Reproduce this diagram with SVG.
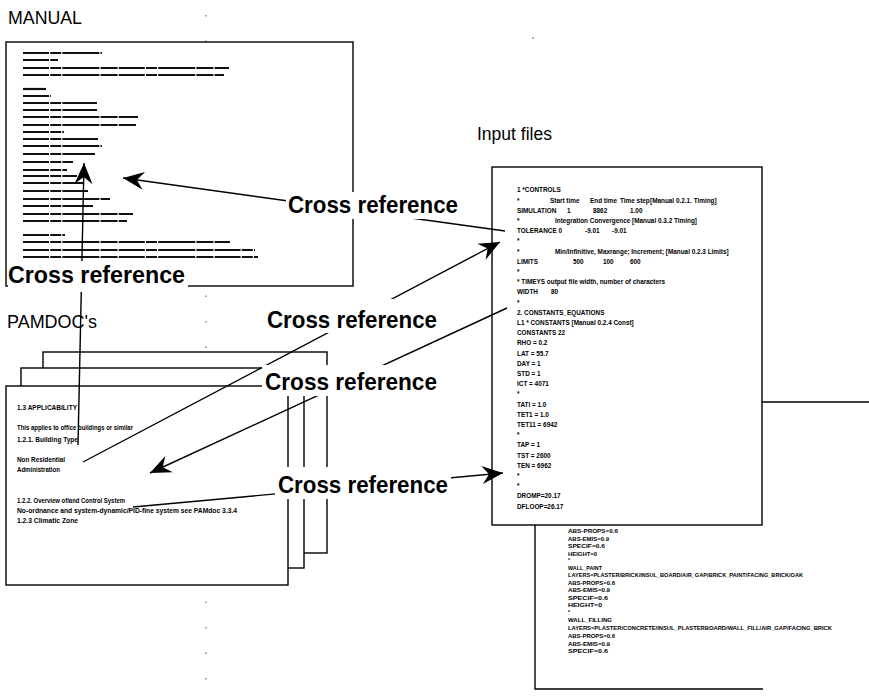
<svg xmlns="http://www.w3.org/2000/svg" width="869" height="699" viewBox="0 0 869 699">
  <defs>
    <style>
      .page { fill: #fff; stroke: #000; stroke-width: 1.4; }
      .edge { fill: none; stroke: #000; stroke-width: 1.4; }
      .title { font-family: "Liberation Sans", Arial, sans-serif; font-size: 18px; fill: #000; }
      .xref { font-family: "Liberation Sans", Arial, sans-serif; font-size: 23px; font-weight: bold; fill: #000; }
      .tiny { font-family: "Liberation Sans", Arial, sans-serif; font-size: 6.4px; font-weight: bold; fill: #000; }
      .tiny2 { font-family: "Liberation Sans", Arial, sans-serif; font-size: 5.2px; font-weight: bold; fill: #000; }
      .bars line { stroke: #111; stroke-width: 2.2; stroke-dasharray: 26 1.2 11 1.2 37 1.2 17 1.2; }
      .link { fill: none; stroke: #000; stroke-width: 1.4; }
      .mask { fill: #fff; stroke: none; }
      .speck { fill: none; stroke: #444; stroke-width: 1; stroke-dasharray: 1.5 24; }
    </style>
    <marker id="head" markerUnits="userSpaceOnUse" viewBox="-22 -10 24 20" markerWidth="24" markerHeight="20" refX="0" refY="0" orient="auto" overflow="visible">
      <path d="M0,0 L-21,-9 L-14,0 L-21,9 Z" fill="#000"/>
    </marker>
  </defs>

  <rect width="869" height="699" fill="#fff"/>

  <!-- faint scan specks -->
  <line class="speck" x1="206" y1="15" x2="206" y2="695"/>
  <circle cx="533" cy="38" r="0.8" fill="#444"/>

  <!-- MANUAL page -->
  <g id="manual">
    <text class="title" x="8" y="24" textLength="74" lengthAdjust="spacingAndGlyphs">MANUAL</text>
    <rect class="page" x="6" y="42" width="347" height="244"/>
    <g class="bars">
      <line x1="23" y1="53" x2="102" y2="53"/>
      <line x1="23" y1="60" x2="58" y2="60"/>
      <line x1="23" y1="68" x2="229" y2="68"/>
      <line x1="23" y1="75" x2="224" y2="75"/>
      <line x1="23" y1="89" x2="46" y2="89"/>
      <line x1="23" y1="96" x2="51" y2="96"/>
      <line x1="23" y1="103" x2="97" y2="103"/>
      <line x1="23" y1="110" x2="97" y2="110"/>
      <line x1="23" y1="117" x2="138" y2="117"/>
      <line x1="23" y1="125" x2="136" y2="125"/>
      <line x1="23" y1="132" x2="64" y2="132"/>
      <line x1="23" y1="139" x2="98" y2="139"/>
      <line x1="23" y1="146" x2="102" y2="146"/>
      <line x1="23" y1="154" x2="95" y2="154"/>
      <line x1="23" y1="162" x2="73" y2="162"/>
      <line x1="23" y1="170" x2="67" y2="170"/>
      <line x1="23" y1="176" x2="77" y2="176"/>
      <line x1="23" y1="183" x2="83" y2="183"/>
      <line x1="23" y1="191" x2="88" y2="191"/>
      <line x1="23" y1="199" x2="110" y2="199"/>
      <line x1="23" y1="206" x2="93" y2="206"/>
      <line x1="23" y1="214" x2="133" y2="214"/>
      <line x1="23" y1="221" x2="127" y2="221"/>
      <line x1="23" y1="235" x2="65" y2="235"/>
      <line x1="23" y1="242" x2="230" y2="242"/>
      <line x1="23" y1="250" x2="255" y2="250"/>
      <line x1="23" y1="257" x2="258" y2="257"/>
    </g>
  </g>

  <!-- PAMDOC pages (stacked) -->
  <g id="pamdoc">
    <text class="title" x="7" y="328" textLength="90" lengthAdjust="spacingAndGlyphs">PAMDOC's</text>
    <rect class="page" x="43" y="352" width="284" height="201"/>
    <rect class="page" x="21" y="368" width="283" height="200"/>
    <rect class="page" x="6" y="386" width="282" height="199"/>
    <g>
      <text class="tiny" x="17" y="409.5" textLength="60" lengthAdjust="spacingAndGlyphs">1.3  APPLICABILITY</text>
      <text class="tiny" x="17" y="430" textLength="116" lengthAdjust="spacingAndGlyphs">This applies to office buildings or similar</text>
      <text class="tiny" x="17" y="441.5" textLength="61" lengthAdjust="spacingAndGlyphs">1.2.1. Building Type</text>
      <text class="tiny" x="17" y="461.5" textLength="48" lengthAdjust="spacingAndGlyphs">Non Residential</text>
      <text class="tiny" x="17" y="471.5" textLength="43" lengthAdjust="spacingAndGlyphs">Administration</text>
      <text class="tiny" x="17" y="502.5" textLength="108" lengthAdjust="spacingAndGlyphs">1.2.2. Overview of/and Control System</text>
      <text class="tiny" x="17" y="512.5" textLength="220" lengthAdjust="spacingAndGlyphs">No-ordnance and system-dynamic/PID-fine system  see PAMdoc 3.3.4</text>
      <text class="tiny" x="17" y="522.5" textLength="61" lengthAdjust="spacingAndGlyphs">1.2.3  Climatic Zone</text>
    </g>
  </g>

  <!-- Input files: rear page, then front page -->
  <g id="input-files">
    <text class="title" x="477" y="140" textLength="75" lengthAdjust="spacingAndGlyphs">Input files</text>
    <path class="edge" d="M762,402 H869 M535,525 V689 H763"/>
    <g>
      <text class="tiny2" x="568" y="533" textLength="50" lengthAdjust="spacingAndGlyphs">ABS-PROPS=0.6</text>
      <text class="tiny2" x="568" y="540.5" textLength="41" lengthAdjust="spacingAndGlyphs">ABS-EMIS=0.9</text>
      <text class="tiny2" x="568" y="548" textLength="37" lengthAdjust="spacingAndGlyphs">SPECIF=0.6</text>
      <text class="tiny2" x="568" y="555.5" textLength="29" lengthAdjust="spacingAndGlyphs">HEIGHT=0</text>
      <text class="tiny2" x="568" y="562">*</text>
      <text class="tiny2" x="568" y="569.5" textLength="34" lengthAdjust="spacingAndGlyphs">WALL_PAINT</text>
      <text class="tiny2" x="568" y="577" textLength="235" lengthAdjust="spacingAndGlyphs">LAYERS=PLASTER/BRICK/INSUL_BOARD/AIR_GAP/BRICK_PAINT/FACING_BRICK/OAK</text>
      <text class="tiny2" x="568" y="584.5" textLength="47" lengthAdjust="spacingAndGlyphs">ABS-PROPS=0.6</text>
      <text class="tiny2" x="568" y="592" textLength="42" lengthAdjust="spacingAndGlyphs">ABS-EMIS=0.9</text>
      <text class="tiny2" x="568" y="599.5" textLength="40" lengthAdjust="spacingAndGlyphs">SPECIF=0.6</text>
      <text class="tiny2" x="568" y="607" textLength="34" lengthAdjust="spacingAndGlyphs">HEIGHT=0</text>
      <text class="tiny2" x="568" y="614">*</text>
      <text class="tiny2" x="568" y="621.5" textLength="44" lengthAdjust="spacingAndGlyphs">WALL_FILLING</text>
      <text class="tiny2" x="568" y="630" textLength="264" lengthAdjust="spacingAndGlyphs">LAYERS=PLASTER/CONCRETE/INSUL_PLASTERBOARD/WALL_FILL/AIR_GAP/FACING_BRICK</text>
      <text class="tiny2" x="568" y="638" textLength="47" lengthAdjust="spacingAndGlyphs">ABS-PROPS=0.6</text>
      <text class="tiny2" x="568" y="645.5" textLength="42" lengthAdjust="spacingAndGlyphs">ABS-EMIS=0.9</text>
      <text class="tiny2" x="568" y="653" textLength="40" lengthAdjust="spacingAndGlyphs">SPECIF=0.6</text>
    </g>
    <rect class="page" x="492" y="167" width="270" height="358"/>
    <g>
      <text class="tiny" x="517" y="192.3">1  *CONTROLS</text>
      <text class="tiny" y="202.5"><tspan x="517">*</tspan><tspan x="550">Start time</tspan><tspan x="590">End time</tspan><tspan x="620">Time step</tspan><tspan x="650">[Manual 0.2.1. Timing]</tspan></text>
      <text class="tiny" y="212.7"><tspan x="517">SIMULATION</tspan><tspan x="567">1</tspan><tspan x="593">8862</tspan><tspan x="630">1.00</tspan></text>
      <text class="tiny" y="222.9"><tspan x="517">*</tspan><tspan x="555">Integration Convergence [Manual 0.3.2 Timing]</tspan></text>
      <text class="tiny" y="233.1"><tspan x="517">TOLERANCE 0</tspan><tspan x="585">-9.01</tspan><tspan x="612">-9.01</tspan></text>
      <text class="tiny" x="517" y="243.3">*</text>
      <text class="tiny" y="253.5"><tspan x="517">*</tspan><tspan x="555">Min/Infinitive,  Maxrange;  Increment;  [Manual 0.2.3 Limits]</tspan></text>
      <text class="tiny" y="263.7"><tspan x="517">LIMITS</tspan><tspan x="573">500</tspan><tspan x="603">100</tspan><tspan x="630">600</tspan></text>
      <text class="tiny" x="517" y="273.9">*</text>
      <text class="tiny" x="517" y="284.1">* TIMEYS output file width, number of characters</text>
      <text class="tiny" y="294.3"><tspan x="517">WIDTH</tspan><tspan x="551">80</tspan></text>
      <text class="tiny" x="517" y="304.5">*</text>
      <text class="tiny" x="517" y="314.7">2. CONSTANTS_EQUATIONS</text>
      <text class="tiny" x="517" y="324.9">L1  * CONSTANTS [Manual 0.2.4 Const]</text>
      <text class="tiny" x="517" y="335.1">CONSTANTS 22</text>
      <text class="tiny" x="517" y="345.3">RHO = 0.2</text>
      <text class="tiny" x="517" y="355.5">LAT = 55.7</text>
      <text class="tiny" x="517" y="365.7">DAY = 1</text>
      <text class="tiny" x="517" y="375.9">STD = 1</text>
      <text class="tiny" x="517" y="386.1">ICT = 4071</text>
      <text class="tiny" x="517" y="396.3">*</text>
      <text class="tiny" x="517" y="406.5">TATI = 1.0</text>
      <text class="tiny" x="517" y="416.7">TET1 = 1.0</text>
      <text class="tiny" x="517" y="426.9">TET11 = 6942</text>
      <text class="tiny" x="517" y="437.1">*</text>
      <text class="tiny" x="517" y="447.3">TAP  = 1</text>
      <text class="tiny" x="517" y="457.5">TST  = 2600</text>
      <text class="tiny" x="517" y="467.7">TEN  = 6962</text>
      <text class="tiny" x="517" y="477.9">*</text>
      <text class="tiny" x="517" y="488.1">*</text>
      <text class="tiny" x="517" y="498.3">DROMP=20.17</text>
      <text class="tiny" x="517" y="508.5">DFLOOP=26.17</text>
    </g>
  </g>

  <!-- cross-reference connectors -->
  <g id="connectors">
    <line class="link" x1="78" y1="445" x2="84" y2="163" marker-end="url(#head)"/>
    <line class="link" x1="505" y1="231" x2="123" y2="178" marker-end="url(#head)"/>
    <line class="link" x1="83" y1="462" x2="500" y2="242" marker-end="url(#head)"/>
    <line class="link" x1="507" y1="308" x2="150" y2="473" marker-end="url(#head)"/>
    <line class="link" x1="133" y1="507" x2="503" y2="473" marker-end="url(#head)"/>
  </g>

  <!-- connector labels -->
  <g id="label-manual">
    <rect class="mask" x="8" y="261" width="180" height="31"/>
    <text class="xref" x="8" y="283" textLength="177" lengthAdjust="spacingAndGlyphs">Cross reference</text>
  </g>
  <g id="label-1">
    <rect class="mask" x="286" y="192" width="174" height="27"/>
    <text class="xref" x="288" y="213" textLength="170" lengthAdjust="spacingAndGlyphs">Cross reference</text>
  </g>
  <g id="label-2">
    <rect class="mask" x="264" y="299" width="176" height="34"/>
    <text class="xref" x="267" y="328" textLength="170" lengthAdjust="spacingAndGlyphs">Cross reference</text>
  </g>
  <g id="label-3">
    <rect class="mask" x="262" y="365" width="178" height="31"/>
    <text class="xref" x="265" y="390" textLength="172" lengthAdjust="spacingAndGlyphs">Cross reference</text>
  </g>
  <g id="label-4">
    <rect class="mask" x="275" y="467" width="176" height="32"/>
    <text class="xref" x="278" y="493" textLength="170" lengthAdjust="spacingAndGlyphs">Cross reference</text>
  </g>
</svg>
